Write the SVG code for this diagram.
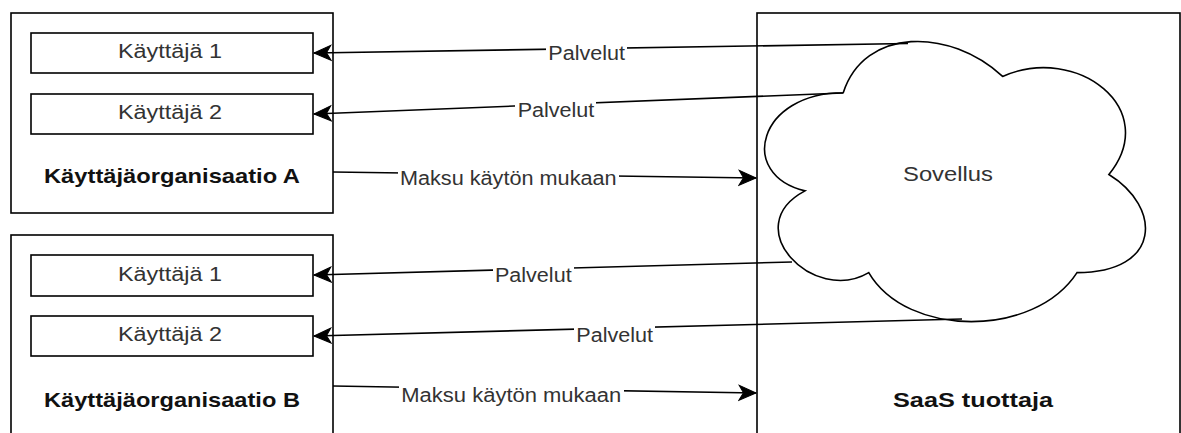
<svg xmlns="http://www.w3.org/2000/svg" width="1181" height="433" viewBox="0 0 1181 433">
  <style>
    .box { fill: #ffffff; stroke: #000000; stroke-width: 1.6; }
    .txt { font-family: "Liberation Sans", Arial, sans-serif; font-size: 19.5px; fill: #333333; text-anchor: middle; }
    .bold { font-family: "Liberation Sans", Arial, sans-serif; font-size: 21px; font-weight: bold; fill: #111111; text-anchor: middle; }
    .edge { fill: none; stroke: #000000; stroke-width: 1.6; }
    .lbg { fill: #ffffff; }
  </style>
  <defs>
    <marker id="arrow" markerUnits="userSpaceOnUse" markerWidth="20" markerHeight="18" viewBox="-18 -9 20 18" refX="0" refY="0" orient="auto">
      <path d="M0,0 L-17,-7.5 L-12.5,0 L-17,7.5 Z" fill="#000000" stroke="#000000" stroke-width="1"/>
    </marker>
  </defs>

  <!-- provider frame with the cloud application -->
  <g id="saas">
    <rect class="box" x="757" y="13" width="423" height="440"/>
    <text class="bold" x="973" y="406.5" textLength="160" lengthAdjust="spacingAndGlyphs">SaaS tuottaja</text>
  </g>
  <g id="sovellus">
    <path class="box" d="M843.25,92.75 C758.25,92.75 737,174.5 805,190.85 C737,226.8 813.5,305.3 868.75,272.6 C907,338 1034.5,338 1077,272.6 C1162,272.6 1162,207.2 1108.9,174.5 C1162,109.1 1077,43.7 1002.6,76.4 C949.5,27.35 864.5,27.35 843.25,92.75 Z"/>
    <text class="txt" x="948" y="180.5" textLength="90" lengthAdjust="spacingAndGlyphs">Sovellus</text>
  </g>

  <!-- customer organisation A -->
  <g id="org-a">
    <rect class="box" x="11" y="13" width="322" height="200"/>
    <text class="bold" x="172" y="183.3" textLength="256" lengthAdjust="spacingAndGlyphs">Käyttäjäorganisaatio A</text>
  </g>
  <g id="org-a-user1">
    <rect class="box" x="31" y="33" width="282" height="40"/>
    <text class="txt" x="170" y="58.3" textLength="104" lengthAdjust="spacingAndGlyphs">Käyttäjä 1</text>
  </g>
  <g id="org-a-user2">
    <rect class="box" x="31" y="94" width="282" height="40"/>
    <text class="txt" x="170" y="119.3" textLength="104" lengthAdjust="spacingAndGlyphs">Käyttäjä 2</text>
  </g>

  <!-- customer organisation B -->
  <g id="org-b">
    <rect class="box" x="11" y="235" width="322" height="220"/>
    <text class="bold" x="172" y="406.7" textLength="256" lengthAdjust="spacingAndGlyphs">Käyttäjäorganisaatio B</text>
  </g>
  <g id="org-b-user1">
    <rect class="box" x="31" y="255" width="282" height="41"/>
    <text class="txt" x="170" y="281" textLength="104" lengthAdjust="spacingAndGlyphs">Käyttäjä 1</text>
  </g>
  <g id="org-b-user2">
    <rect class="box" x="31" y="316" width="282" height="40"/>
    <text class="txt" x="170" y="341.3" textLength="104" lengthAdjust="spacingAndGlyphs">Käyttäjä 2</text>
  </g>

  <!-- connectors -->
  <g id="connectors">
    <path class="edge" d="M908,43.5 L314,53" marker-end="url(#arrow)"/>
    <rect class="lbg" x="546" y="42" width="81" height="22"/>
    <text class="txt" x="586.7" y="60" textLength="76.7" lengthAdjust="spacingAndGlyphs">Palvelut</text>

    <path class="edge" d="M843,93 L314,114" marker-end="url(#arrow)"/>
    <rect class="lbg" x="515" y="99" width="81" height="22"/>
    <text class="txt" x="556" y="117" textLength="76.7" lengthAdjust="spacingAndGlyphs">Palvelut</text>

    <path class="edge" d="M333,172 L756,178" marker-end="url(#arrow)"/>
    <rect class="lbg" x="398" y="166" width="221" height="23"/>
    <text class="txt" x="508.3" y="185" textLength="216.7" lengthAdjust="spacingAndGlyphs">Maksu käytön mukaan</text>

    <path class="edge" d="M792,262 L314,275" marker-end="url(#arrow)"/>
    <rect class="lbg" x="493" y="263" width="81" height="22"/>
    <text class="txt" x="533.3" y="281.5" textLength="76.7" lengthAdjust="spacingAndGlyphs">Palvelut</text>

    <path class="edge" d="M962,319 L314,336" marker-end="url(#arrow)"/>
    <rect class="lbg" x="574" y="323" width="81" height="22"/>
    <text class="txt" x="614.7" y="341.5" textLength="76.7" lengthAdjust="spacingAndGlyphs">Palvelut</text>

    <path class="edge" d="M333,386 L756,393" marker-end="url(#arrow)"/>
    <rect class="lbg" x="399" y="383" width="225" height="23"/>
    <text class="txt" x="511.3" y="402" textLength="220" lengthAdjust="spacingAndGlyphs">Maksu käytön mukaan</text>
  </g>
</svg>
